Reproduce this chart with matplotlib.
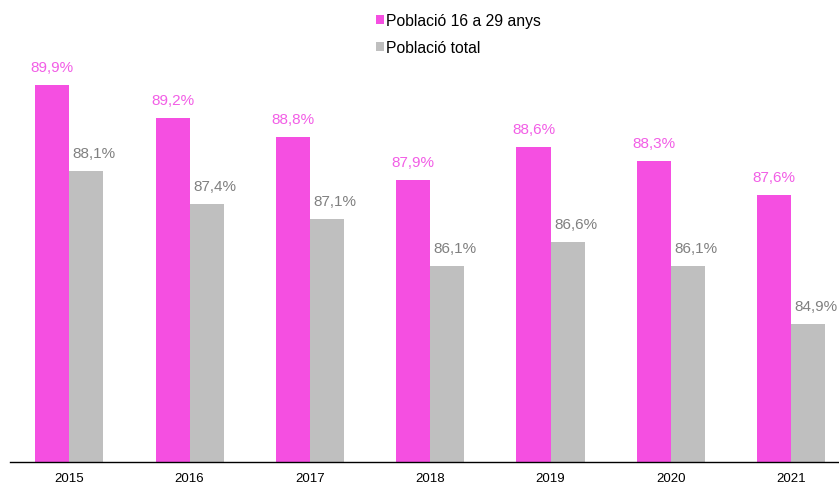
import matplotlib.pyplot as plt
import numpy as np

anys = ['2015', '2016', '2017', '2018', '2019', '2020', '2021']
joves = [89.9, 89.2, 88.8, 87.9, 88.6, 88.3, 87.6]
total = [88.1, 87.4, 87.1, 86.1, 86.6, 86.1, 84.9]

rosa = '#F54FE1'
gris = '#BFBFBF'

plt.rcParams['font.family'] = ['Liberation Sans', 'DejaVu Sans']

fig = plt.figure(figsize=(8.39, 4.85), dpi=100)
ax = fig.add_axes([10 / 839, 1 - 463 / 485, 1 - 10 / 839, 463 / 485])

x = np.arange(len(anys))
w = 0.283
b1 = ax.bar(x - w / 2, joves, w, color=rosa, label='Població 16 a 29 anys')
b2 = ax.bar(x + w / 2, total, w, color=gris, label='Població total')

for xi, v in zip(x, joves):
    ax.annotate(f'{v:.1f}%'.replace('.', ','), (xi - w / 2, v), xytext=(0, 11),
                textcoords='offset pixels', ha='center', va='bottom',
                color='#F25EE6', fontsize=11)
for xi, v in zip(x, total):
    ax.annotate(f'{v:.1f}%'.replace('.', ','), (xi + w / 2, v), xytext=(8, 11),
                textcoords='offset pixels', ha='center', va='bottom',
                color='#808080', fontsize=11)

ax.set_ylim(82, 91.7)
ax.set_xlim(-0.493, 6.398)
ax.set_xticks(x)
ax.set_xticklabels(anys, fontsize=9.5)
ax.tick_params(axis='x', length=0, pad=7)
ax.set_yticks([])
for s in ['top', 'right', 'left']:
    ax.spines[s].set_visible(False)
ax.spines['bottom'].set_color('#000000')
ax.spines['bottom'].set_linewidth(1)

ax.legend(loc='upper left', bbox_to_anchor=(352 / 829, 1 + 0 / 463), frameon=False,
          fontsize=11.3, handlelength=0.5, handleheight=0.5, handletextpad=0.15,
          labelspacing=0.75)

fig.savefig('out.png', dpi=100)
